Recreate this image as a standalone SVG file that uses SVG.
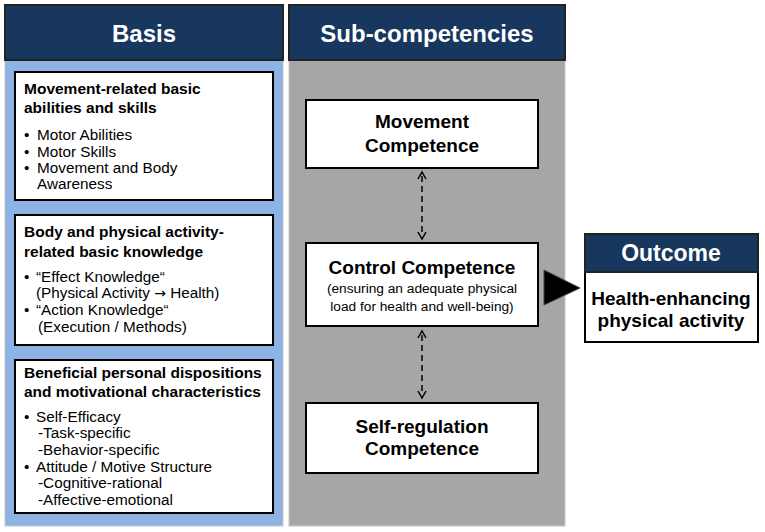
<svg xmlns="http://www.w3.org/2000/svg" width="765" height="532" viewBox="0 0 765 532">
<style>
text{font-family:"Liberation Sans",Arial,sans-serif;fill:#000}
.hdr{fill:#17375e;stroke:#222;stroke-width:2}
.hdrt{fill:#fff;font-weight:bold;font-size:24px;text-anchor:middle}
.box{fill:#fff;stroke:#000;stroke-width:2}
.bt{font-weight:bold;font-size:15.5px}
.li{font-size:15.3px}
.ct{font-weight:bold;font-size:19px;text-anchor:middle}
.cs{font-size:13.7px;text-anchor:middle}
.dash{stroke:#000;stroke-width:1.5;stroke-dasharray:6,4;fill:none}
.head{stroke:#000;stroke-width:1.5;fill:none}
</style>
<rect width="765" height="532" fill="#fff"/>
<g id="basis-panel">
<rect x="5" y="60" width="278" height="466" fill="#8db3e2" stroke="#c8c8c8" stroke-width="1"/>
<rect class="hdr" x="5" y="5" width="278" height="55"/>
<text class="hdrt" x="144" y="42">Basis</text>
</g>
<g id="sub-panel">
<rect x="289" y="60" width="276" height="466" fill="#a6a6a6" stroke="#c8c8c8" stroke-width="1"/>
<rect class="hdr" x="289" y="5" width="276" height="55"/>
<text class="hdrt" x="427" y="42">Sub-competencies</text>
</g>
<g id="basis-box1">
<rect class="box" x="15" y="72" width="258" height="128"/>
<text class="bt" x="24" y="94">Movement-related basic</text>
<text class="bt" x="24" y="113">abilities and skills</text>
<text class="li" x="24" y="140">•</text><text class="li" x="37" y="140">Motor Abilities</text>
<text class="li" x="24" y="157">•</text><text class="li" x="37" y="157">Motor Skills</text>
<text class="li" x="24" y="173">•</text><text class="li" x="37" y="173">Movement and Body</text>
<text class="li" x="37" y="189">Awareness</text>
</g>
<g id="basis-box2">
<rect class="box" x="15" y="215" width="258" height="130"/>
<text class="bt" x="24" y="237">Body and physical activity-</text>
<text class="bt" x="24" y="257">related basic knowledge</text>
<text class="li" x="24" y="282">•</text><text class="li" x="36" y="282">“Effect Knowledge“</text>
<text class="li" x="36" y="298">(Physical Activity <tspan style="font-family:'DejaVu Sans',sans-serif;font-size:14px">→</tspan> Health)</text>
<text class="li" x="24" y="315">•</text><text class="li" x="36" y="315">“Action Knowledge“</text>
<text class="li" x="38" y="332">(Execution / Methods)</text>
</g>
<g id="basis-box3">
<rect class="box" x="15" y="360" width="258" height="153"/>
<text class="bt" x="24" y="378">Beneficial personal dispositions</text>
<text class="bt" x="24" y="397">and motivational characteristics</text>
<text class="li" x="24" y="422">•</text><text class="li" x="36" y="422">Self-Efficacy</text>
<text class="li" x="38" y="438">-Task-specific</text>
<text class="li" x="38" y="455">-Behavior-specific</text>
<text class="li" x="24" y="472">•</text><text class="li" x="36" y="472">Attitude / Motive Structure</text>
<text class="li" x="38" y="488">-Cognitive-rational</text>
<text class="li" x="38" y="505">-Affective-emotional</text>
</g>
<g id="movement-competence">
<rect class="box" x="306" y="100" width="232" height="68"/>
<text class="ct" x="422" y="128">Movement</text>
<text class="ct" x="422" y="152">Competence</text>
</g>
<g id="control-competence">
<rect class="box" x="306" y="243" width="232" height="83"/>
<text class="ct" x="422" y="274">Control Competence</text>
<text class="cs" x="422" y="293">(ensuring an adequate physical</text>
<text class="cs" x="422" y="311">load for health and well-being)</text>
</g>
<g id="self-regulation-competence">
<rect class="box" x="306" y="403" width="232" height="70"/>
<text class="ct" x="422" y="433">Self-regulation</text>
<text class="ct" x="422" y="455">Competence</text>
</g>
<g id="outcome">
<rect class="box" x="585" y="234" width="173" height="108"/>
<rect class="hdr" x="585" y="234" width="173" height="38"/>
<text x="671" y="261" style="fill:#fff;font-weight:bold;font-size:23px;text-anchor:middle">Outcome</text>
<text class="ct" x="671" y="305">Health-enhancing</text>
<text class="ct" x="671" y="327">physical activity</text>
</g>
<g id="connectors">
<line class="dash" x1="422" y1="176" x2="422" y2="236"/>
<polyline class="head" points="418,179 422,172 426,179"/>
<polyline class="head" points="418,232 422,239 426,232"/>
<line class="dash" x1="422" y1="335" x2="422" y2="395"/>
<polyline class="head" points="418,338 422,331 426,338"/>
<polyline class="head" points="418,391 422,398 426,391"/>
<polygon points="544,270 580,288 544,305" fill="#000" stroke="#444" stroke-width="1"/>
</g>
</svg>
